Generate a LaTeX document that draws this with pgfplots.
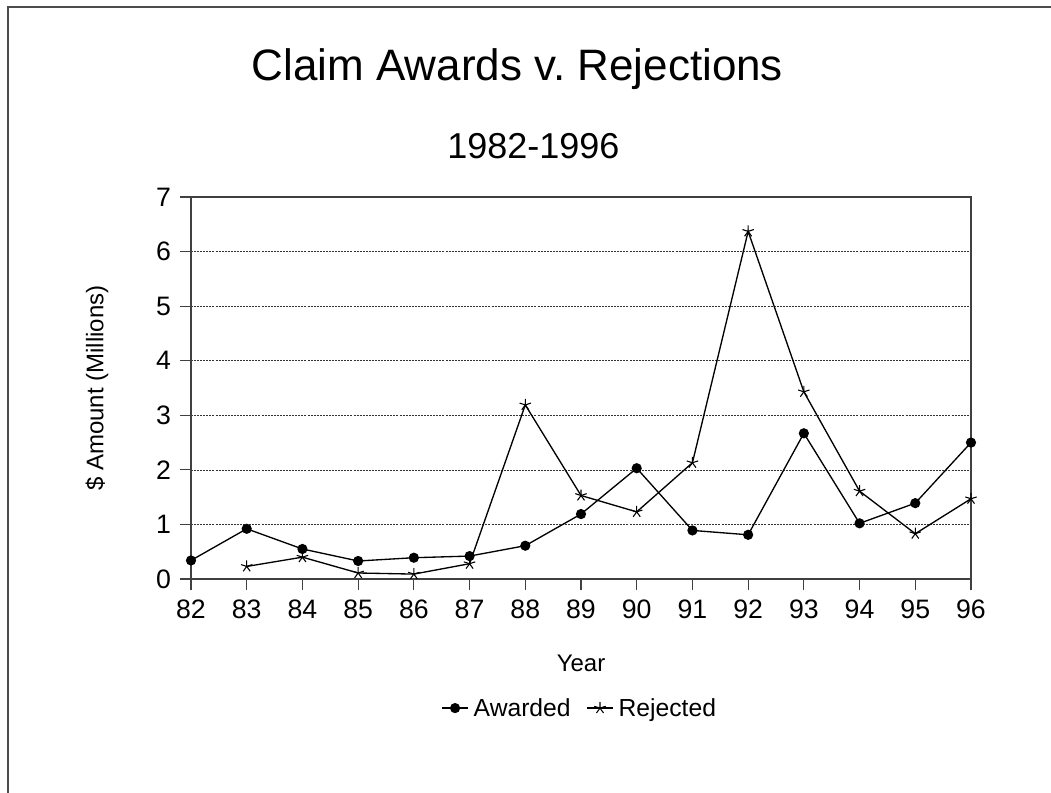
\documentclass[border=0pt]{standalone}
\usepackage{fontspec}
\setmainfont{Liberation Sans}
\usepackage{pgfplots}
\pgfplotsset{compat=1.18}
\usepackage{pgfplotstable}

\pgfplotstableread{
year val
82 0.34
83 0.92
84 0.55
85 0.33
86 0.39
87 0.42
88 0.61
89 1.19
90 2.03
91 0.89
92 0.81
93 2.67
94 1.02
95 1.39
96 2.50
}\awarded

\pgfplotstableread{
year val
83 0.23
84 0.40
85 0.11
86 0.09
87 0.28
88 3.19
89 1.53
90 1.23
91 2.13
92 6.37
93 3.43
94 1.61
95 0.83
96 1.47
}\rejected

\begin{document}
\begin{tikzpicture}
\path[use as bounding box] (0,0) rectangle (788.25pt,594.75pt);
\draw[line width=1.1pt, gray!60!black] (6pt,0pt) -- (6pt,589.5pt) -- (788.25pt,589.5pt);
\node[anchor=base, inner sep=0pt, font=\fontsize{33}{40}\selectfont] at (388pt,534pt) {Claim Awards v.~Rejections};
\node[anchor=base, inner sep=0pt, font=\fontsize{27}{32}\selectfont] at (400pt,475.5pt) {1982-1996};
\begin{axis}[
  at={(143.25pt,160.5pt)}, anchor=south west,
  scale only axis, width=585pt, height=286.5pt,
  xmin=82, xmax=96, ymin=0, ymax=7,
  xtick={82,...,96}, ytick={0,...,7},
  xticklabels={82,83,84,85,86,87,88,89,90,91,92,93,94,95,96},
  /pgf/number format/assume math mode=true,
  ymajorgrids,
  grid style={black!80, line width=0.5pt, dash pattern=on 1.5pt off 0.8pt},
  axis line style={gray!50!black, line width=1pt},
  tick style={gray!50!black, line width=0.9pt},
  tick align=outside, major tick length=8.5pt,
  xtick pos=left, ytick pos=left,
  ticklabel style={font=\fontsize{20}{24}\selectfont},
  xticklabel style={yshift=-4pt},
  yticklabel style={xshift=-3pt},
  xlabel={Year}, ylabel={\$ Amount (Millions)},
  label style={font=\fontsize{18}{21}\selectfont},
  xlabel style={at={(axis description cs:0.5,-0.22)}, anchor=center},
  ylabel style={at={(axis description cs:-0.1205,0.5)}, anchor=center, rotate=0},
  legend columns=2,
  legend style={draw=none, fill=none, at={(0.499,-0.338)}, anchor=center,
    font=\fontsize{18.5}{21}\selectfont, column sep=2pt,
    /tikz/every even column/.append style={column sep=10pt}},
  legend image code/.code={
    \draw[#1, mark repeat=2, mark phase=2] plot coordinates {(0pt,0pt) (9.5pt,0pt) (19pt,0pt)};
  },
]
\addplot[black, line width=1pt, mark=*, mark size=3.3pt, mark options={solid}] table[x=year,y=val] {\awarded};
\addlegendentry{Awarded}
\addplot[black, line width=1pt, mark=star, mark size=4.5pt, mark options={solid, line width=0.8pt}] table[x=year,y=val] {\rejected};
\addlegendentry{Rejected}
\end{axis}
\end{tikzpicture}
\end{document}
